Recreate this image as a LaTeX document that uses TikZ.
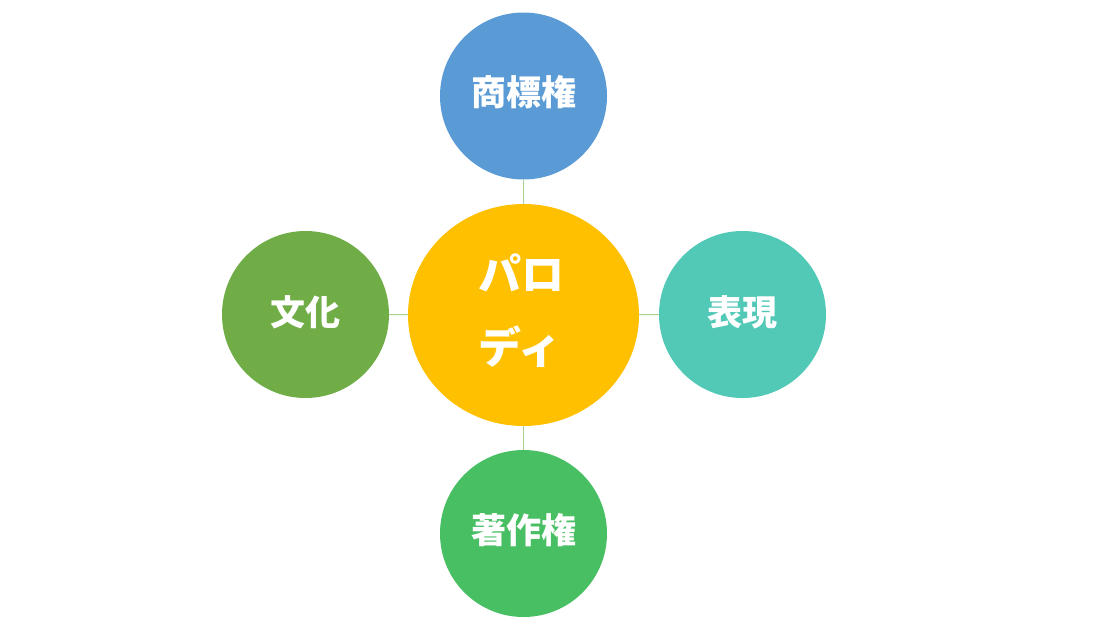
\documentclass[tikz,border=0pt]{standalone}
\usepackage{fontspec}
\newfontfamily\cjk{Noto Sans CJK JP}
\usetikzlibrary{shapes.geometric}
\definecolor{cblue}{HTML}{5B9BD5}
\definecolor{cgold}{HTML}{FFC000}
\definecolor{cleaf}{HTML}{70AD47}
\definecolor{cteal}{HTML}{52C9B7}
\definecolor{cgreen}{HTML}{48BF63}
\definecolor{clink}{HTML}{A9D18E}
\tikzset{
  sat/.style={circle, fill=#1, draw=none, minimum size=167pt, inner sep=0pt},
  hub/.style={ellipse, fill=cgold, draw=none, minimum width=231pt, minimum height=222pt,
    inner sep=0pt},
  link/.style={draw=clink, line width=1pt},
  slbl/.style={text=white, font=\cjk\bfseries\fontsize{35}{40}\selectfont, inner sep=0pt},
  lbl/.style={text=white, font=\cjk\bfseries\fontsize{43}{73}\selectfont, align=left, inner sep=0pt}
}
\begin{document}
\begin{tikzpicture}[x=1pt,y=-1pt]
\useasboundingbox (0,0) rectangle (1110,624);
\node[hub] (c) at (523.5,315) {};
\node[lbl] (ct) at (521,311) {パロ\\ディ};
\node[sat=cblue] (t) at (523.5,96) {};
\node[sat=cleaf] (l) at (305.5,314.5) {};
\node[sat=cteal] (r) at (742.5,314.5) {};
\node[sat=cgreen] (b) at (523.5,533.5) {};
\node[slbl] (tt) at (523.5,92) {商標権};
\node[slbl] (lt) at (305.5,312) {文化};
\node[slbl] (rt) at (742.5,312) {表現};
\node[slbl] (bt) at (523.5,530) {著作権};
\draw[link] (c) -- (t);
\draw[link] (c) -- (l);
\draw[link] (c) -- (r);
\draw[link] (c) -- (b);
\end{tikzpicture}
\end{document}
